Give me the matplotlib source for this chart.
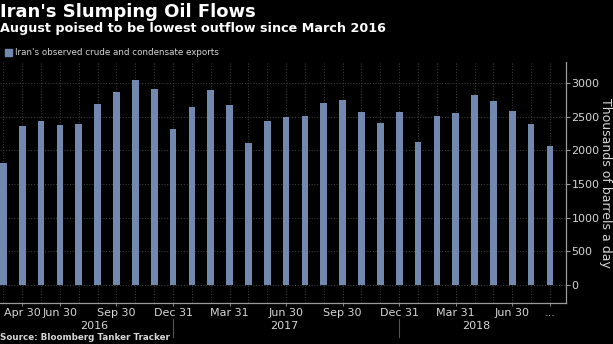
import numpy as np
import matplotlib.pyplot as plt
import matplotlib.transforms as mtransforms

plt.rcParams['font.family'] = ['DejaVu Sans']

# data: monthly exports, Mar 2016 - Aug 2018 (thousand barrels a day)
months = ['Mar 31', 'Apr 30', 'May 31', 'Jun 30', 'Jul 31', 'Aug 31', 'Sep 30', 'Oct 31', 'Nov 30', 'Dec 31',
          'Jan 31', 'Feb 28', 'Mar 31', 'Apr 30', 'May 31', 'Jun 30', 'Jul 31', 'Aug 31', 'Sep 30', 'Oct 31',
          'Nov 30', 'Dec 31', 'Jan 31', 'Feb 28', 'Mar 31', 'Apr 30', 'May 31', 'Jun 30', 'Jul 31', 'Aug 31']
exports = [1815, 2360, 2438, 2374, 2389, 2681, 2859, 3037, 2908, 2319,
           2636, 2893, 2666, 2107, 2438, 2497, 2507, 2696, 2740, 2562,
           2408, 2567, 2122, 2512, 2552, 2824, 2725, 2586, 2393, 2067]
shown_ticks = [1, 3, 6, 9, 12, 15, 18, 21, 24, 27, 29]
tick_text = ['Apr 30', 'Jun 30', 'Sep 30', 'Dec 31', 'Mar 31', 'Jun 30', 'Sep 30', 'Dec 31', 'Mar 31', 'Jun 30', '...']
years = ['2016', '2017', '2018']
year_pos = [4.8, 14.9, 25.1]
year_breaks = [9, 21]

bar_color = '#7189AF'
grid_color = '#3a3a3a'
text_color = '#d6d6d6'

fig = plt.figure(figsize=(6.13, 3.44), dpi=100, facecolor='black')
ax = fig.add_axes([0.0, 0.119, 0.923, 0.701], facecolor='black')

x = np.arange(len(exports))
ax.bar(x, exports, width=0.355, color=bar_color, zorder=3)

ax.set_xlim(-0.18, 29.84)
ax.set_ylim(-267, 3310)

# grid
for yv in range(0, 3001, 500):
    ax.axhline(yv, color=grid_color, lw=0.8, ls=(0, (1, 1.5)), zorder=1)
for xv in x:
    ax.axvline(xv, color=grid_color, lw=0.8, ls=(0, (1, 1.5)), zorder=1)

for s in ['left', 'top']:
    ax.spines[s].set_visible(False)
ax.spines['bottom'].set_color('#9a9a9a')
ax.spines['right'].set_color('#9a9a9a')
ax.spines['bottom'].set_linewidth(0.9)
ax.spines['right'].set_linewidth(0.9)

ax.yaxis.tick_right()
ax.set_yticks(range(0, 3001, 500))
ax.tick_params(axis='y', colors='#9a9a9a', labelcolor=text_color, labelsize=8, length=3, width=0.8, pad=1)
ax.set_xticks([x[i] for i in shown_ticks])
ax.set_xticklabels(tick_text)
ax.tick_params(axis='x', colors='#9a9a9a', labelcolor=text_color, labelsize=8, length=2, width=0.6, pad=1.5)

# y axis title
fig.text(0.987, 0.467, 'Thousands of barrels a day', color=text_color, fontsize=9, rotation=-90,
         ha='center', va='center')

# year row
trans = mtransforms.blended_transform_factory(ax.transData, ax.transAxes)
for yr, xp in zip(years, year_pos):
    ax.text(xp, -0.097, yr, transform=trans, ha='center', va='center', color=text_color, fontsize=8)
for xb in year_breaks:
    ax.plot([xb, xb], [-0.065, -0.14], transform=trans, color='#555555', lw=0.8, clip_on=False)

# titles
fig.text(0.0, 0.99, "Iran's Slumping Oil Flows", color='white', fontsize=13, fontweight='bold',
         ha='left', va='top')
fig.text(0.0, 0.935, 'August poised to be lowest outflow since March 2016', color='white', fontsize=9.2,
         fontweight='bold', ha='left', va='top')
fig.patches.append(plt.Rectangle((0.008, 0.838), 0.011, 0.02, transform=fig.transFigure, color=bar_color))
fig.text(0.024, 0.848, "Iran's observed crude and condensate exports", color=text_color, fontsize=6.3,
         ha='left', va='center')
fig.text(0.0, 0.006, 'Source: Bloomberg Tanker Tracker', color=text_color, fontsize=6.3, fontweight='bold',
         ha='left', va='bottom')

plt.savefig('out.png', dpi=100, facecolor='black')
